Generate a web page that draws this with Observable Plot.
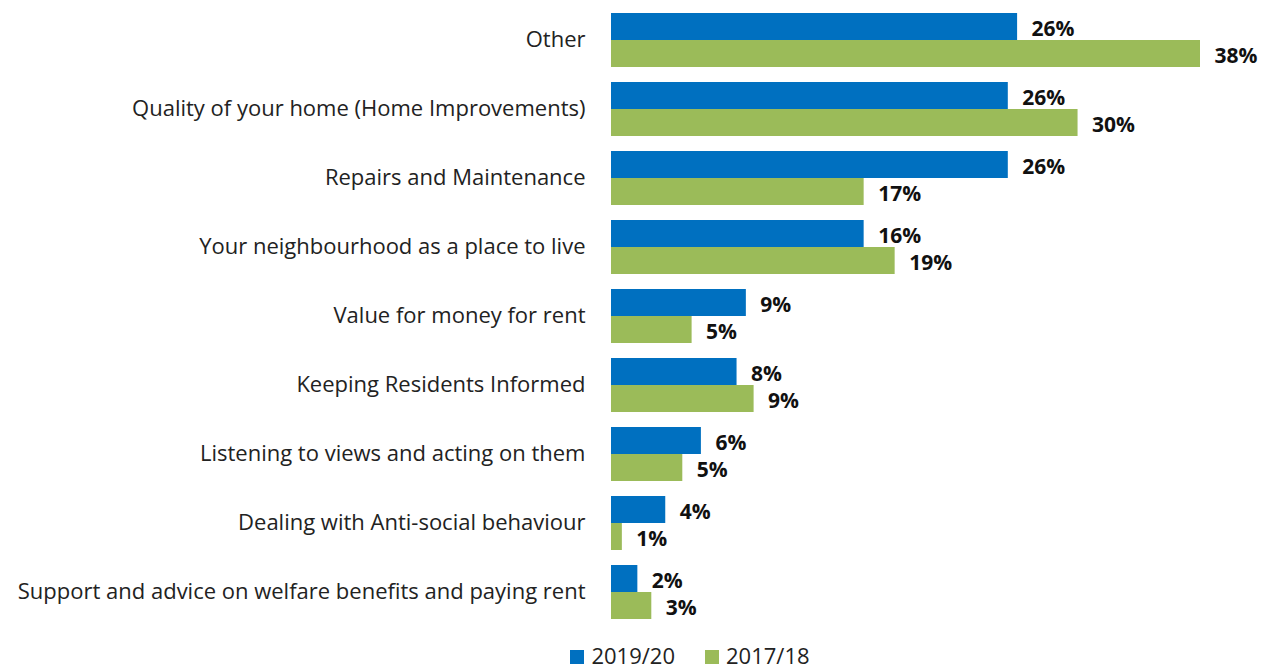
<!DOCTYPE html>
<html>
<head>
<meta charset="utf-8">
<script src="https://cdn.jsdelivr.net/npm/d3@7"></script>
<script src="https://cdn.jsdelivr.net/npm/@observablehq/plot@0.6"></script>
<style>
  body { margin: 0; background: #fff; font-family: "Open Sans", sans-serif; }
  #legend { display: flex; justify-content: center; gap: 30px; font-size: 22px; color: #222; height: 24px; line-height: 24px; align-items: center; margin-left: 114px; }
  #legend span.sw { display: inline-block; width: 14px; height: 14px; margin-right: 7px; vertical-align: 0px; }
</style>
</head>
<body>
<div id="chart"></div>
<div id="legend"></div>
<script>
const categories = [
  "Other",
  "Quality of your home (Home Improvements)",
  "Repairs and Maintenance",
  "Your neighbourhood as a place to live",
  "Value for money for rent",
  "Keeping Residents Informed",
  "Listening to views and acting on them",
  "Dealing with Anti-social behaviour",
  "Support and advice on welfare benefits and paying rent"
];
const series = ["2019/20", "2017/18"];
const values2019 = [26.2, 25.6, 25.6, 16.3, 8.7, 8.1, 5.8, 3.5, 1.7];
const values2017 = [38.0, 30.1, 16.3, 18.3, 5.2, 9.2, 4.6, 0.7, 2.6];
const labels2019 = ["26%", "26%", "26%", "16%", "9%", "8%", "6%", "4%", "2%"];
const labels2017 = ["38%", "30%", "17%", "19%", "5%", "9%", "5%", "1%", "3%"];
const colors = ["#0070C0", "#9BBB59"];

const data = [];
categories.forEach((c, i) => {
  data.push({category: c, series: series[0], value: values2019[i], label: labels2019[i]});
  data.push({category: c, series: series[1], value: values2017[i], label: labels2017[i]});
});

const chart = Plot.plot({
  width: 1266,
  height: 643,
  marginLeft: 611,
  marginRight: 35,
  marginTop: 8,
  marginBottom: 19,
  style: {fontFamily: "Open Sans, sans-serif", background: "#fff"},
  x: {domain: [0, 40], axis: null},
  y: {domain: series, axis: null, padding: 0},
  fy: {domain: categories, paddingInner: 0.2, paddingOuter: 0.06},
  color: {domain: series, range: colors},
  marks: [
    Plot.axisFy({anchor: "left", tickSize: 0, tickPadding: 26, label: null, fontSize: 22, fill: "#222"}),
    Plot.barX(data, {fy: "category", y: "series", x: "value", fill: "series"}),
    Plot.text(data, {fy: "category", y: "series", x: "value", text: "label", dx: 14, dy: 2, textAnchor: "start", fontWeight: "bold", fontSize: 21, fill: "#111"})
  ]
});
document.getElementById("chart").appendChild(chart);

const legend = document.getElementById("legend");
series.forEach((s, i) => {
  const item = document.createElement("div");
  item.innerHTML = `<span class="sw" style="background:${colors[i]}"></span>${s}`;
  legend.appendChild(item);
});
</script>
</body>
</html>
